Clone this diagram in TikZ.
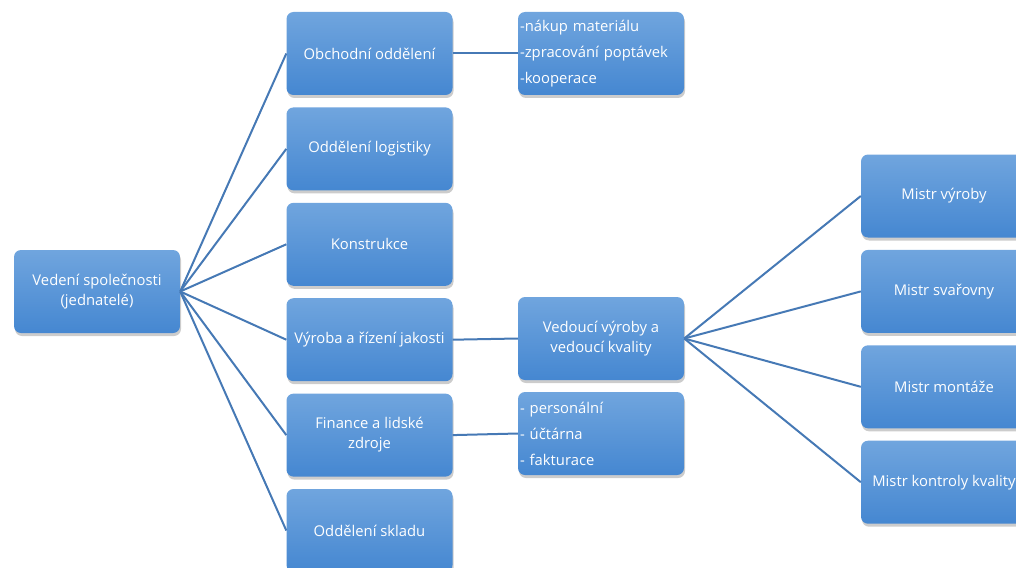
\documentclass[tikz,border=0pt]{standalone}
\usepackage{fontspec}
\setmainfont{Open Sans}
\usetikzlibrary{shadows,positioning}
\newcommand{\boxw}{166pt}
\newcommand{\boxh}{83pt}
\definecolor{boxtop}{HTML}{70A5DE}
\definecolor{boxbot}{HTML}{4587D1}
\definecolor{linkblue}{HTML}{4679B5}
\tikzset{
    unit/.style={rounded corners=7pt, top color=boxtop, bottom color=boxbot,
        text=white, minimum width=\boxw, minimum height=\boxh, inner sep=2pt,
        align=center, font=\fontsize{14.8}{20}\selectfont,
        drop shadow={opacity=.4, shadow xshift=1pt, shadow yshift=-3pt}},
    duties/.style={unit, align=left, text width=162pt,
        font=\fontsize{14.8}{26}\selectfont},
    link/.style={draw=linkblue, line width=2pt}
}

\begin{document}
\begin{tikzpicture}[x=1pt,y=-1pt]
    \useasboundingbox (0,0) rectangle (1016,567);
    \clip (0,0) rectangle (1016,567);
    % vedeni
    \node[unit] (root) at (97,291.5) {Vedení společnosti\\(jednatelé)};
    % oddeleni
    \node[unit] (obch) at (369.5,53.5) {Obchodní oddělení};
    \node[unit, below=12pt of obch] (logi) {Oddělení logistiky};
    \node[unit, below=12pt of logi] (konst) {Konstrukce};
    \node[unit, below=12pt of konst] (vyroba) {Výroba a řízení jakosti};
    \node[unit, below=12pt of vyroba] (fin) {Finance a lidské\\zdroje};
    \node[unit, below=12pt of fin] (sklad) {Oddělení skladu};
    % napln
    \node[duties] (nakup) at (601,53.5) {-nákup materiálu\\-zpracování poptávek\\-kooperace};
    \node[unit] (vedouci) at (601,338.5) {Vedoucí výroby a\\vedoucí kvality};
    \node[duties] (pers) at (601,433.5) {- personální\\- účtárna\\- fakturace};
    % mistri
    \node[unit] (mvyr) at (944,196) {Mistr výroby};
    \node[unit, below=12pt of mvyr] (msva) {Mistr svařovny};
    \node[unit, below=12pt of msva] (mmon) {Mistr montáže};
    \node[unit, below=12pt of mmon] (mkon) {Mistr kontroly kvality};

    \foreach \d in {obch,logi,konst,vyroba,fin,sklad}
        \draw[link] (root.east) -- (\d.west);
    \draw[link] (obch.east) -- (nakup.west);
    \draw[link] (vyroba.east) -- (vedouci.west);
    \draw[link] (fin.east) -- (pers.west);
    \foreach \m in {mvyr,msva,mmon,mkon}
        \draw[link] (vedouci.east) -- (\m.west);
\end{tikzpicture}
\end{document}
